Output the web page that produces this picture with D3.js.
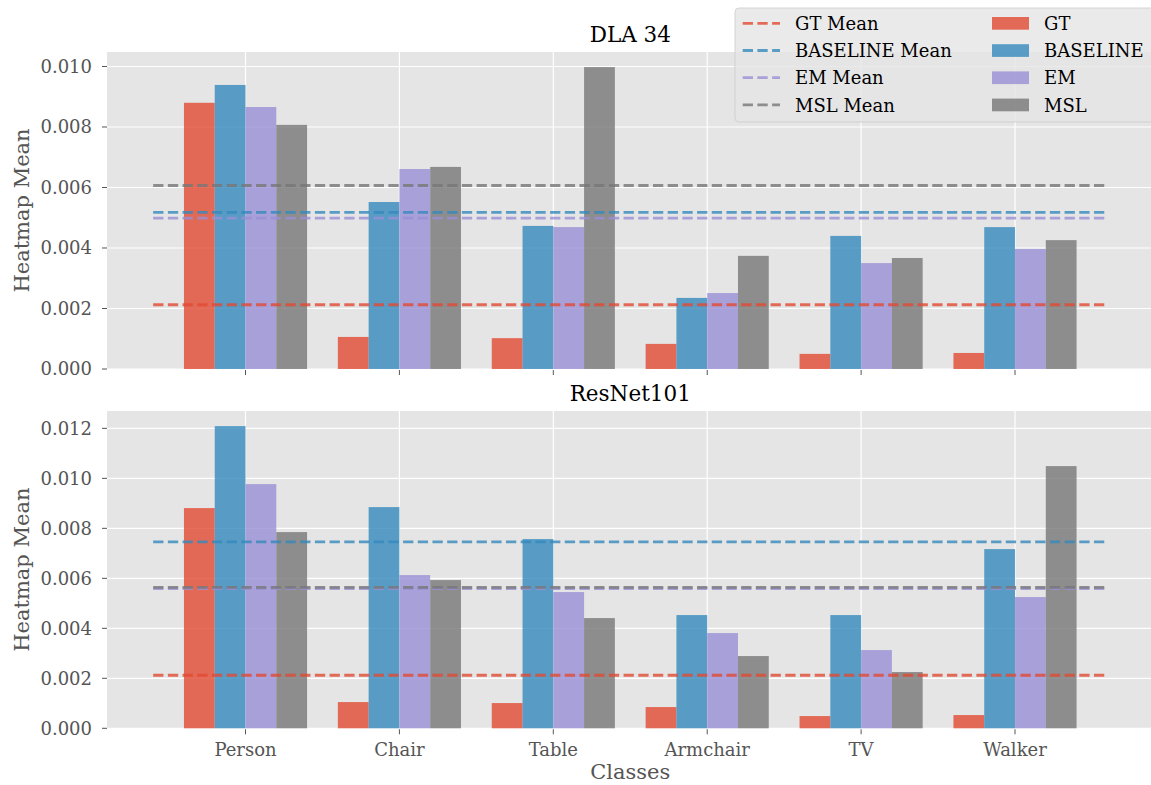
<!DOCTYPE html>
<html>
<head>
<meta charset="utf-8">
<script src="https://cdn.jsdelivr.net/npm/d3@7"></script>
<style>
  html, body { margin: 0; padding: 0; background: #ffffff; }
  svg { display: block; font-family: "DejaVu Serif", serif; }
</style>
</head>
<body>
<svg id="chart" width="1151" height="785"></svg>
<script>
// ---------------- data ----------------
const categories = ["Person", "Chair", "Table", "Armchair", "TV", "Walker"];
const seriesNames = ["GT", "BASELINE", "EM", "MSL"];
const seriesColors = ["#E24A33", "#348ABD", "#988ED5", "#777777"];

// DLA 34 panel
const dlaGT       = [0.00880, 0.00106, 0.00102, 0.00083, 0.00050, 0.00053];
const dlaBASELINE = [0.00939, 0.00552, 0.00473, 0.00235, 0.00440, 0.00469];
const dlaEM       = [0.00866, 0.00661, 0.00469, 0.00251, 0.00350, 0.00397];
const dlaMSL      = [0.00807, 0.00668, 0.00998, 0.00374, 0.00367, 0.00426];

// ResNet101 panel
const resGT       = [0.00881, 0.00105, 0.00101, 0.00085, 0.00049, 0.00053];
const resBASELINE = [0.01209, 0.00885, 0.00757, 0.00453, 0.00453, 0.00717];
const resEM       = [0.00977, 0.00613, 0.00545, 0.00381, 0.00313, 0.00525];
const resMSL      = [0.00785, 0.00593, 0.00441, 0.00289, 0.00225, 0.01049];

const dlaTicks = [0.000, 0.002, 0.004, 0.006, 0.008, 0.010];
const resTicks = [0.000, 0.002, 0.004, 0.006, 0.008, 0.010, 0.012];

const panels = [
  { title: "DLA 34", series: [dlaGT, dlaBASELINE, dlaEM, dlaMSL], ticks: dlaTicks, top: 52, bottom: 369, showX: false },
  { title: "ResNet101", series: [resGT, resBASELINE, resEM, resMSL], ticks: resTicks, top: 411, bottom: 728.3, showX: true }
];

// ---------------- layout ----------------
const svg = d3.select("#chart");
const axLeft = 107;
const unit = 153.9;
const x = d3.scaleLinear().domain([-0.9, 5.9]).range([axLeft, axLeft + 6.8 * unit]);
const sub = d3.scaleBand().domain(seriesNames).range([-0.4, 0.4]);
const fmt = d3.format(".3f");
const tickColor = "#555555";
const bg = "#E5E5E5";

panels.forEach(p => {
  const maxV = d3.max(p.series.flat());
  const y = d3.scaleLinear().domain([0, maxV * 1.05]).range([p.bottom, p.top]);
  const g = svg.append("g");

  // background
  g.append("rect")
    .attr("x", x.range()[0]).attr("y", p.top)
    .attr("width", x.range()[1] - x.range()[0]).attr("height", p.bottom - p.top)
    .attr("fill", bg);

  // grid
  g.selectAll(".hg").data(p.ticks).join("line")
    .attr("x1", x.range()[0]).attr("x2", x.range()[1])
    .attr("y1", d => y(d)).attr("y2", d => y(d))
    .attr("stroke", "#ffffff").attr("stroke-width", 1.2);
  g.selectAll(".vg").data(categories).join("line")
    .attr("x1", (d, i) => x(i)).attr("x2", (d, i) => x(i))
    .attr("y1", p.top).attr("y2", p.bottom)
    .attr("stroke", "#ffffff").attr("stroke-width", 1.2);

  // bars
  seriesNames.forEach((s, si) => {
    g.selectAll(".bar" + si).data(p.series[si]).join("rect")
      .attr("x", (d, i) => x(i + sub(s)))
      .attr("width", (d, i) => x(i + sub(s) + sub.bandwidth()) - x(i + sub(s)))
      .attr("y", d => y(d))
      .attr("height", d => y(0) - y(d))
      .attr("fill", seriesColors[si]).attr("fill-opacity", 0.8);
  });

  // mean lines
  seriesNames.forEach((s, si) => {
    const m = d3.mean(p.series[si]);
    g.append("line")
      .attr("x1", x(-0.6)).attr("x2", x(5.6))
      .attr("y1", y(m)).attr("y2", y(m))
      .attr("stroke", seriesColors[si]).attr("stroke-opacity", 0.8)
      .attr("stroke-width", 2.8).attr("stroke-dasharray", "10.3 4.4");
  });

  // y ticks
  g.selectAll(".yt").data(p.ticks).join("line")
    .attr("x1", axLeft - 5).attr("x2", axLeft)
    .attr("y1", d => y(d)).attr("y2", d => y(d))
    .attr("stroke", tickColor).attr("stroke-width", 1);
  g.selectAll(".yl").data(p.ticks).join("text")
    .attr("x", 92).attr("y", d => y(d))
    .attr("dy", "0.35em")
    .attr("text-anchor", "end")
    .attr("font-size", 18).attr("fill", tickColor)
    .text(d => fmt(d));

  // x ticks
  g.selectAll(".xt").data(categories).join("line")
    .attr("x1", (d, i) => x(i)).attr("x2", (d, i) => x(i))
    .attr("y1", p.bottom + 1).attr("y2", p.bottom + 6)
    .attr("stroke", tickColor).attr("stroke-width", 1);
  if (p.showX) {
    g.selectAll(".xl").data(categories).join("text")
      .attr("x", (d, i) => x(i)).attr("y", p.bottom + 27.5)
      .attr("text-anchor", "middle")
      .attr("font-size", 18).attr("fill", tickColor)
      .text(d => d);
  }

  // title
  g.append("text")
    .attr("x", (x.range()[0] + x.range()[1]) / 2).attr("y", p.top - 10)
    .attr("text-anchor", "middle").attr("font-size", 21.5).attr("fill", "#000")
    .text(p.title);

  // y label
  g.append("text")
    .attr("transform", `translate(29,${(p.top + p.bottom) / 2}) rotate(-90)`)
    .attr("text-anchor", "middle").attr("font-size", 21).attr("fill", tickColor)
    .text("Heatmap Mean");
});

// x label
svg.append("text")
  .attr("x", (x.range()[0] + x.range()[1]) / 2).attr("y", 779)
  .attr("text-anchor", "middle").attr("font-size", 21).attr("fill", tickColor)
  .text("Classes");

// ---------------- legend ----------------
const lg = svg.append("g");
lg.append("rect")
  .attr("x", 735).attr("y", 8).attr("width", 430).attr("height", 114).attr("rx", 4)
  .attr("fill", bg).attr("fill-opacity", 0.8)
  .attr("stroke", "#cccccc").attr("stroke-opacity", 0.8).attr("stroke-width", 1);
const rowY = i => 23.3 + i * 27.2;
seriesNames.forEach((s, si) => {
  lg.append("line")
    .attr("x1", 742.7).attr("x2", 780).attr("y1", rowY(si)).attr("y2", rowY(si))
    .attr("stroke", seriesColors[si]).attr("stroke-opacity", 0.8)
    .attr("stroke-width", 2.8).attr("stroke-dasharray", "10.3 4.4");
  lg.append("text")
    .attr("x", 795).attr("y", rowY(si) + 6.7)
    .attr("font-size", 18).attr("fill", "#000").text(s + " Mean");
  lg.append("rect")
    .attr("x", 992).attr("y", rowY(si) - 6.3).attr("width", 37).attr("height", 12.7)
    .attr("fill", seriesColors[si]).attr("fill-opacity", 0.8);
  lg.append("text")
    .attr("x", 1044).attr("y", rowY(si) + 6.7)
    .attr("font-size", 18).attr("fill", "#000").text(s);
});
</script>
</body>
</html>
